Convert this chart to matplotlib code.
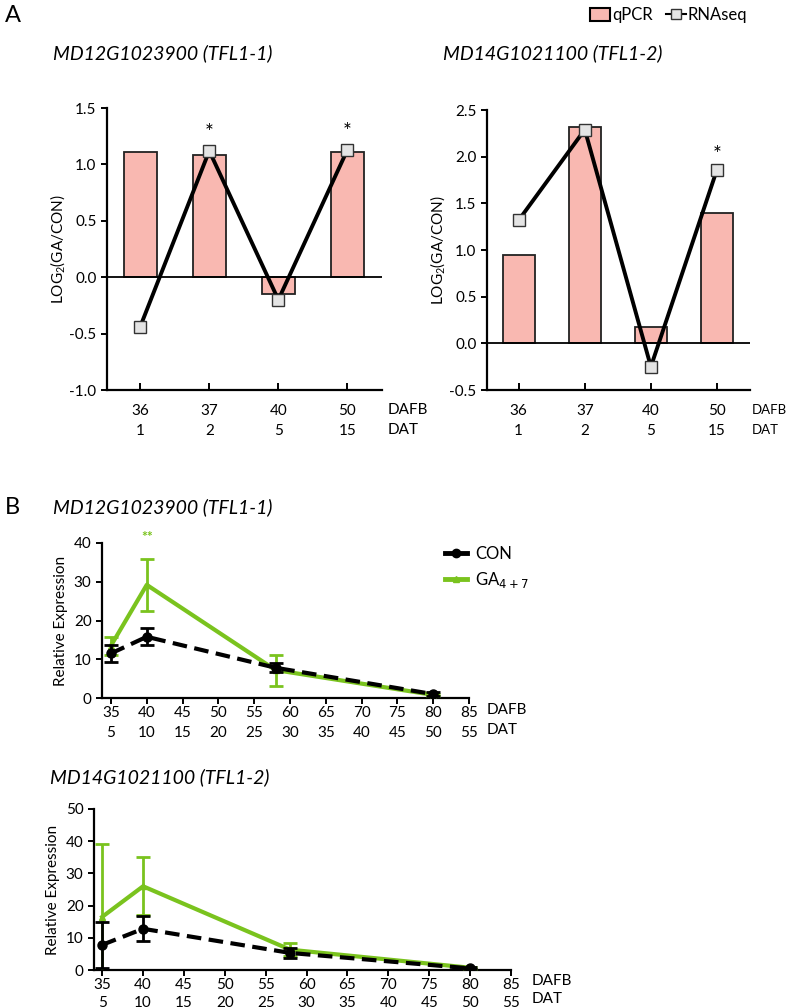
import matplotlib
matplotlib.use("Agg")
import matplotlib.pyplot as plt
from matplotlib.lines import Line2D
from matplotlib.patches import Patch

plt.rcParams['font.family'] = ['Lato', 'DejaVu Sans']
plt.rcParams['axes.unicode_minus'] = False

W, H = 787, 1008

# ---- panel A data ----
dafb_a = ["36", "37", "40", "50"]
dat_a = ["1", "2", "5", "15"]
qpcr_tfl11 = [1.11, 1.08, -0.15, 1.11]
rnaseq_tfl11 = [-0.44, 1.12, -0.20, 1.13]
star_tfl11 = [1, 3]
qpcr_tfl12 = [0.95, 2.32, 0.17, 1.40]
rnaseq_tfl12 = [1.32, 2.29, -0.25, 1.86]
star_tfl12 = [3]

# ---- panel B data ----
days = [35, 40, 58, 80]
con_tfl11 = [11.5, 15.8, 7.8, 1.0]
con_tfl11_err = [2.2, 2.2, 1.2, 0.5]
ga_tfl11 = [13.5, 29.2, 7.2, 0.8]
ga_tfl11_err = [2.3, 6.8, 4.0, 0.3]
con_tfl12 = [7.8, 12.8, 5.3, 0.5]
con_tfl12_err = [7.1, 3.9, 1.5, 0.3]
ga_tfl12 = [16.5, 26.0, 6.3, 0.7]
ga_tfl12_err = [22.7, 9.0, 2.1, 0.3]

PINK = "#F9B8B1"
GREEN = "#7AC31E"
FS = 11


def px_axes(x0, x1, ytop, ybot):
    return fig.add_axes([x0 / W, 1 - ybot / H, (x1 - x0) / W, (ybot - ytop) / H])


def style(ax):
    for s in ("top", "right"):
        ax.spines[s].set_visible(False)
    for s in ("left", "bottom"):
        ax.spines[s].set_linewidth(1.6)
    ax.tick_params(labelsize=FS, width=1.4, length=4)


def bar_panel(ax, qpcr, rnaseq, stars, ylim, yticks):
    pos = list(range(len(qpcr)))
    ax.bar(pos, qpcr, width=0.48, color=PINK, edgecolor="#222222", linewidth=1.3, zorder=2)
    ax.axhline(0, color="black", lw=1.3, zorder=3)
    ax.plot(pos, rnaseq, color="black", lw=2.8, marker="s", ms=8,
            mfc="#E4E4E4", mec="#333333", mew=1.0, zorder=4)
    for i in stars:
        ax.text(i, max(qpcr[i], rnaseq[i]) + 0.16, "*", ha="center", va="center", fontsize=15)
    ax.set_ylim(*ylim)
    ax.set_yticks(yticks)
    ax.set_yticklabels([f"{v:.1f}" for v in yticks])
    ax.set_xlim(-0.48, 3.5)
    ax.set_xticks(pos)
    ax.set_xticklabels([f"{a}\n{b}" for a, b in zip(dafb_a, dat_a)], linespacing=1.6)
    ax.set_ylabel("LOG$\\mathregular{_2}$(GA/CON)", fontsize=FS, labelpad=2)
    style(ax)
    ax.tick_params(axis="x", direction="in", pad=10, length=5)


def line_panel(ax, con, con_err, ga, ga_err, ylim, yticks, spacing):
    ax.errorbar(days, ga, yerr=ga_err, color=GREEN, lw=3, marker="^", ms=5,
                capsize=5, elinewidth=2, capthick=2, zorder=3)
    ax.errorbar(days, con, yerr=con_err, color="black", lw=3, ls=(0, (3.5, 1.8)),
                marker="o", ms=6.5, capsize=5, elinewidth=2, capthick=2, zorder=4)
    ax.set_ylim(*ylim)
    ax.set_yticks(yticks)
    ticks = list(range(35, 90, 5))
    ax.set_xticks(ticks)
    ax.set_xticklabels([f"{t}\n{t - 30}" for t in ticks], linespacing=spacing)
    ax.set_ylabel("Relative Expression", fontsize=FS, labelpad=4)
    style(ax)
    ax.tick_params(axis="x", pad=2)


fig = plt.figure(figsize=(W / 100, H / 100), dpi=100)

# ---------- A ----------
fig.text(5 / W, 1 - 15 / H, "A", fontsize=17, va="center")

axa1 = px_axes(107, 382, 108, 390)
bar_panel(axa1, qpcr_tfl11, rnaseq_tfl11, star_tfl11, (-1.0, 1.5),
          [-1.0, -0.5, 0.0, 0.5, 1.0, 1.5])
fig.text(53 / W, 1 - 53 / H, "MD12G1023900 (TFL1-1)", fontsize=14, style="italic", va="center")
fig.text(388 / W, 1 - 420 / H, "DAFB\nDAT", fontsize=FS, va="center", linespacing=1.6)

axa2 = px_axes(487, 750, 110, 390)
bar_panel(axa2, qpcr_tfl12, rnaseq_tfl12, star_tfl12, (-0.5, 2.5),
          [-0.5, 0.0, 0.5, 1.0, 1.5, 2.0, 2.5])
fig.text(443 / W, 1 - 53 / H, "MD14G1021100 (TFL1-2)", fontsize=14, style="italic", va="center")
fig.text(752 / W, 1 - 420 / H, "DAFB\nDAT", fontsize=9.5, va="center", linespacing=1.85)

handles_a = [Patch(facecolor=PINK, edgecolor="black", linewidth=1.5),
             Line2D([], [], color="black", lw=1.5, marker="s", ms=7, mfc="#E4E4E4", mec="#333333")]
fig.legend(handles_a, ["qPCR", "RNAseq"], loc="center right",
           bbox_to_anchor=(762 / W, 1 - 15 / H), ncol=2, frameon=False, fontsize=12,
           handlelength=1.2, handletextpad=0.1, columnspacing=0.8, handleheight=0.8)

# ---------- B ----------
fig.text(5 / W, 1 - 507 / H, "B", fontsize=17, va="center")
fig.text(53 / W, 1 - 507 / H, "MD12G1023900 (TFL1-1)", fontsize=14, style="italic", va="center")

axb1 = px_axes(102, 469, 543, 698)
line_panel(axb1, con_tfl11, con_tfl11_err, ga_tfl11, ga_tfl11_err, (0, 40),
           [0, 10, 20, 30, 40], 1.55)
axb1.set_xlim(33.75, 85)
axb1.text(40, 41.5, "**", color=GREEN, ha="center", va="center", fontsize=10, fontweight="bold")
fig.text(487 / W, 1 - 720 / H, "DAFB\nDAT", fontsize=FS, va="center", linespacing=1.55)

handles_b = [Line2D([], [], color="black", lw=3.5, marker="o", ms=6),
             Line2D([], [], color=GREEN, lw=3.5, marker="^", ms=5)]
fig.legend(handles_b, ["CON", "GA$_{4+7}$"], loc="upper left",
           bbox_to_anchor=(430 / W, 1 - 531 / H), frameon=False, fontsize=12,
           handlelength=1.3, handletextpad=0.5, labelspacing=0.45)

fig.text(50 / W, 1 - 777 / H, "MD14G1021100 (TFL1-2)", fontsize=14, style="italic", va="center")
axb2 = px_axes(94, 511, 809, 970)
line_panel(axb2, con_tfl12, con_tfl12_err, ga_tfl12, ga_tfl12_err, (0, 50),
           [0, 10, 20, 30, 40, 50], 1.3)
axb2.set_xlim(34, 85)
fig.text(532 / W, 1 - 990 / H, "DAFB\nDAT", fontsize=FS, va="center", linespacing=1.3)

fig.savefig("out.png", dpi=100)
